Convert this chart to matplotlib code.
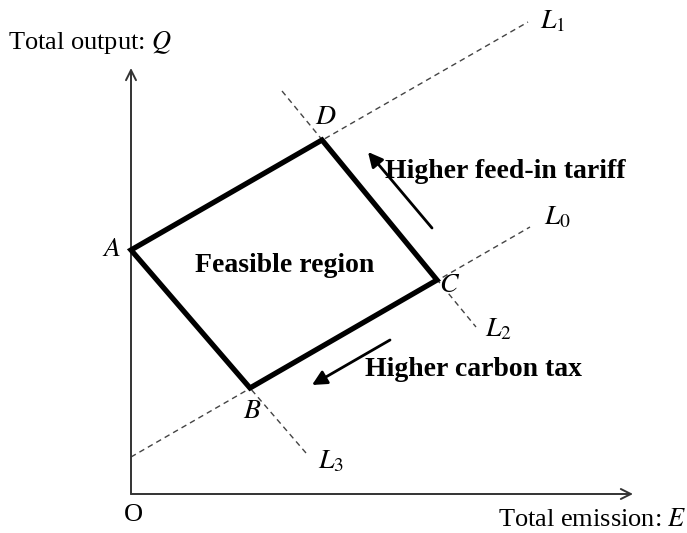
"""Feasible region diagram: total output vs total emission."""

import matplotlib
matplotlib.use("Agg")
import matplotlib.pyplot as plt

plt.rcParams["font.family"] = "Liberation Serif"
plt.rcParams["mathtext.fontset"] = "stix"

# corner points of the feasible region (E, Q)
VERTEX_NAMES = ["A", "D", "C", "B"]
VERTEX_E = [0, 191, 306, 119]
VERTEX_Q = [244, 354, 214, 106]

# dashed boundary lines, each from a start point to an end point
LINE_NAMES = ["L_1", "L_0", "L_2", "L_3"]
LINE_E = [[0, 397], [0, 399], [151, 345], [0, 175]]
LINE_Q = [[244, 472], [37, 267], [403, 167], [244, 41]]

AXIS_E_MAX = 502
AXIS_Q_MAX = 426

FS = 19
FS_BOLD = 20
FS_MATH = 20

fig = plt.figure(figsize=(6.87, 5.33), dpi=100)
ax = fig.add_axes([0, 0, 1, 1])
ax.set_xlim(-131, 556)
ax.set_ylim(-39, 494)
ax.axis("off")

# axes with open arrow heads
ax.annotate("", xy=(AXIS_E_MAX, 0), xytext=(0, 0),
            arrowprops=dict(arrowstyle="->", lw=1.4, color="#333333",
                            mutation_scale=18, shrinkA=0, shrinkB=0))
ax.annotate("", xy=(0, AXIS_Q_MAX), xytext=(0, 0),
            arrowprops=dict(arrowstyle="->", lw=1.4, color="#333333",
                            mutation_scale=18, shrinkA=0, shrinkB=0))

for e_pts, q_pts in zip(LINE_E, LINE_Q):
    ax.plot(e_pts, q_pts, color="#444444", lw=1.0, ls=(0, (4, 3)), zorder=2)

ax.fill(VERTEX_E, VERTEX_Q, facecolor="none", edgecolor="black",
        lw=3.8, joinstyle="miter", zorder=3)

# labels
ax.text(-123, 452, "Total output: $Q$", fontsize=FS, ha="left", va="center")
ax.text(556, -26, "Total emission: $E$", fontsize=FS, ha="right", va="center")
ax.text(2, -21, "O", fontsize=FS, ha="center", va="center")

vertex_label_pos = {"A": (-19, 244), "D": (195, 376), "C": (319, 209), "B": (121, 82)}
for name in VERTEX_NAMES:
    px, py = vertex_label_pos[name]
    ax.text(px, py, f"${name}$", fontsize=FS_MATH, ha="center", va="center")

line_label_pos = {"L_1": (409, 472), "L_0": (413, 276), "L_2": (354, 164), "L_3": (187, 32)}
for name in LINE_NAMES:
    px, py = line_label_pos[name]
    ax.text(px, py, f"${name}$", fontsize=FS_MATH, ha="left", va="center")

ax.text(154, 228, "Feasible region", fontsize=FS_BOLD, fontweight="bold",
        ha="center", va="center")
ax.text(254, 323, "Higher feed-in tariff", fontsize=FS_BOLD, fontweight="bold",
        ha="left", va="center")
ax.text(234, 124, "Higher carbon tax", fontsize=FS_BOLD, fontweight="bold",
        ha="left", va="center")

arrow_style = dict(arrowstyle="-|>", lw=2.0, color="black",
                   mutation_scale=22, shrinkA=0, shrinkB=0)
ax.annotate("", xy=(237, 342), xytext=(301, 266), arrowprops=arrow_style)
ax.annotate("", xy=(181, 109), xytext=(259, 154), arrowprops=arrow_style)

fig.savefig("out.png", dpi=100)
